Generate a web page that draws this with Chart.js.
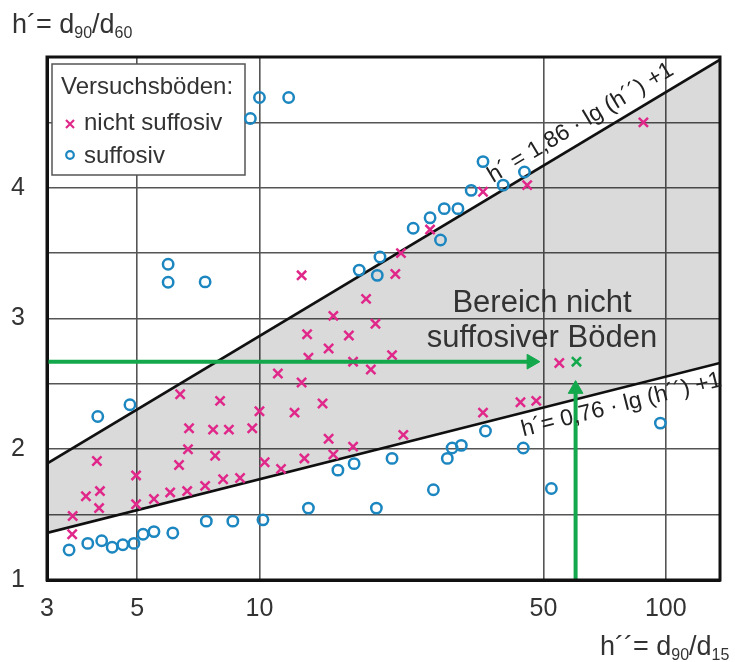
<!DOCTYPE html>
<html><head><meta charset="utf-8">
<script src="https://cdn.jsdelivr.net/npm/chart.js@4.4.1/dist/chart.umd.min.js"></script>
<style>html,body{margin:0;padding:0;background:#fff;}</style>
</head><body>
<canvas id="c" width="735" height="662"></canvas>
<script>
// ---- data ----
const xTickValues = [3, 5, 10, 50, 100];
const yTickLabels = [1, 2, 3, 4];

const nichtSuffosivX = [3.47,3.46,3.74,4.05,4.03,3.98,4.97,4.97,5.5,6.03,6.64,7.35,8.14,8.96,6.34,6.67,7.78,6.71,7.69,8.41,9.6,10.3,10.0,8.0,6.38,11.3,12.9,15.2,17.0,14.8,12.2,14.3,22.6,35.5,43.9,48,54.7,12.7,18.3,21.6,22.3,15.2,19.3,13.1,16.6,14.8,13.2,17.0,21.2,18.8,11.1,12.7,26.3,35.5,45.6,88.1];
const nichtSuffosivY = [1.49,1.35,1.64,1.68,1.55,1.91,1.80,1.58,1.62,1.67,1.68,1.72,1.77,1.78,1.88,2.00,1.95,2.16,2.15,2.15,2.16,1.90,2.29,2.37,2.42,1.85,1.93,1.96,2.02,2.08,2.28,2.35,2.11,2.28,2.36,2.37,2.66,3.33,3.15,3.34,3.5,3.02,2.96,2.88,2.87,2.77,2.70,2.67,2.72,2.61,2.58,2.51,3.68,3.97,4.02,4.5];

const suffosivX = [9.5,10.0,11.8,5.96,5.96,7.35,4.8,4.0,3.40,3.78,4.09,4.34,4.61,4.91,5.17,5.5,6.12,7.4,8.6,10.2,13.2,15.6,17.1,19.4,21.2,26.8,29.0,29.8,31.4,36.0,44.6,52.3,97,23.9,26.3,28.5,30.8,27.9,33.2,35.5,39.8,44.9,17.6,19.8,19.5];
const suffosivY = [4.53,4.69,4.69,3.415,3.277,3.28,2.34,2.25,1.23,1.28,1.30,1.25,1.27,1.28,1.35,1.37,1.36,1.45,1.45,1.46,1.55,1.84,1.89,1.55,1.93,1.69,1.93,2.01,2.03,2.14,2.01,1.70,2.2,3.69,3.77,3.84,3.84,3.60,3.98,4.2,4.02,4.12,3.37,3.47,3.33];

const boundaryX = [3, 136];
const upperY = [1.89, 4.98];   // h' = 1,86 lg(h'') + 1
const lowerY = [1.36, 2.66];   // h' = 0,76 lg(h'') + 1

const arrowHX = [3, 46.7];
const arrowHY = [2.67, 2.67];
const arrowVX = [60, 60];
const arrowVY = [1, 2.46];
const exampleX = [60.3];
const exampleY = [2.67];

// ---- helpers ----
const pts = (xs, ys) => xs.map((x, i) => ({x, y: ys[i]}));
const FONT = '"Liberation Sans", Arial, sans-serif';
const PINK = '#e0288a';
const BLUE = '#1b86bf';
const GREEN = '#13a84c';
const TXT = '#333333';

function drawParts(ctx, parts, x, y) {
  let cx = x;
  for (const [t, sub] of parts) {
    ctx.font = (sub ? '16px ' : '27px ') + FONT;
    ctx.fillText(t, cx, y + (sub ? 5 : 0));
    cx += ctx.measureText(t).width;
  }
}

const decorPlugin = {
  id: 'decor',
  beforeDatasetsDraw(chart) {
    const ctx = chart.ctx;
    ctx.save();
    // legend box
    ctx.fillStyle = '#fff';
    ctx.fillRect(52, 64, 193, 111);
    ctx.strokeStyle = '#555';
    ctx.lineWidth = 1.5;
    ctx.strokeRect(52, 64, 193, 111);
    ctx.fillStyle = TXT;
    ctx.textBaseline = 'alphabetic';
    ctx.textAlign = 'left';
    ctx.font = '24px ' + FONT;
    ctx.fillText('Versuchsböden:', 61, 94);
    ctx.fillText('nicht suffosiv', 84, 130);
    ctx.fillText('suffosiv', 84, 163);
    // legend markers
    ctx.strokeStyle = PINK; ctx.lineWidth = 2.2;
    ctx.beginPath();
    ctx.moveTo(66, 120); ctx.lineTo(74, 128);
    ctx.moveTo(74, 120); ctx.lineTo(66, 128);
    ctx.stroke();
    ctx.strokeStyle = BLUE; ctx.lineWidth = 2.2;
    ctx.beginPath(); ctx.arc(70, 155, 3.8, 0, Math.PI * 2); ctx.stroke();
    ctx.restore();
  },
  afterDatasetsDraw(chart) {
    const ctx = chart.ctx;
    const xs = chart.scales.x, ys = chart.scales.y;
    const a = chart.chartArea;
    ctx.save();
    // frame
    ctx.strokeStyle = '#111';
    ctx.lineWidth = 3;
    ctx.strokeRect(a.left, a.top, a.right - a.left, a.bottom - a.top);
    // region text
    ctx.fillStyle = TXT;
    ctx.textAlign = 'center';
    ctx.textBaseline = 'alphabetic';
    ctx.font = '31px ' + FONT;
    ctx.fillText('Bereich nicht', 542, 312);
    ctx.fillText('suffosiver Böden', 542, 347);
    // boundary labels
    const lab = (ya, txt, vx, off) => {
      const x0 = xs.getPixelForValue(boundaryX[0]), x1 = xs.getPixelForValue(boundaryX[1]);
      const y0 = ys.getPixelForValue(ya[0]), y1 = ys.getPixelForValue(ya[1]);
      const ang = Math.atan2(y1 - y0, x1 - x0);
      const px = xs.getPixelForValue(vx);
      const py = y0 + (px - x0) * (y1 - y0) / (x1 - x0);
      ctx.save();
      ctx.translate(px, py);
      ctx.rotate(ang);
      ctx.font = '23px ' + FONT;
      ctx.textAlign = 'center';
      ctx.textBaseline = 'alphabetic';
      ctx.fillStyle = '#222';
      ctx.fillText(txt, 0, off);
      ctx.restore();
    };
    lab(upperY, 'h\u00b4 = 1,86 \u00b7 lg (h\u00b4\u00b4) +1', 65, -11);
    lab(lowerY, 'h\u00b4= 0,76 \u00b7 lg (h\u00b4\u00b4) +1', 76, 23);
    // axis titles
    ctx.textAlign = 'left';
    ctx.textBaseline = 'alphabetic';
    ctx.fillStyle = TXT;
    drawParts(ctx, [['h\u00b4= d', 0], ['90', 1], ['/d', 0], ['60', 1]], 12, 33);
    drawParts(ctx, [['h\u00b4\u00b4= d', 0], ['90', 1], ['/d', 0], ['15', 1]], 600, 655);
    ctx.restore();
  }
};

new Chart(document.getElementById('c'), {
  type: 'scatter',
  data: {
    datasets: [
      { type: 'line', label: 'upper', data: pts(boundaryX, upperY), borderColor: '#111', borderWidth: 2.6,
        pointRadius: 0, fill: '+1', backgroundColor: 'rgba(0,0,0,0.145)', order: 10 },
      { type: 'line', label: 'lower', data: pts(boundaryX, lowerY), borderColor: '#111', borderWidth: 2.6,
        pointRadius: 0, fill: false, order: 10 },
      { label: 'nicht suffosiv', data: pts(nichtSuffosivX, nichtSuffosivY), pointStyle: 'crossRot',
        pointRadius: 6.5, borderColor: PINK, borderWidth: 2.5, backgroundColor: PINK, order: 2 },
      { label: 'suffosiv', data: pts(suffosivX, suffosivY), pointStyle: 'circle',
        pointRadius: 5.2, borderColor: BLUE, borderWidth: 2.5, backgroundColor: 'rgba(0,0,0,0)', order: 2 },
      { type: 'line', label: 'arrowH', data: pts(arrowHX, arrowHY), borderColor: GREEN, borderWidth: 4,
        pointStyle: 'triangle', pointRotation: 90, pointRadius: [0, 8.5], pointBorderWidth: 1,
        pointBackgroundColor: GREEN, pointBorderColor: GREEN, fill: false, order: 1 },
      { type: 'line', label: 'arrowV', data: pts(arrowVX, arrowVY), borderColor: GREEN, borderWidth: 4,
        pointStyle: 'triangle', pointRotation: 0, pointRadius: [0, 8.5], pointBorderWidth: 1,
        pointBackgroundColor: GREEN, pointBorderColor: GREEN, fill: false, order: 1 },
      { label: 'example', data: pts(exampleX, exampleY), pointStyle: 'crossRot',
        pointRadius: 6.5, borderColor: GREEN, borderWidth: 2.5, order: 1 }
    ]
  },
  options: {
    responsive: false,
    animation: false,
    devicePixelRatio: 1,
    events: [],
    layout: { padding: { top: 57, right: 15, left: 0, bottom: 0 } },
    plugins: { legend: { display: false }, tooltip: { enabled: false }, title: { display: false } },
    scales: {
      x: {
        type: 'logarithmic', position: 'bottom', min: 3, max: 136,
        afterBuildTicks: s => { s.ticks = xTickValues.map(v => ({ value: v })); },
        afterFit: s => { s.height = 82; },
        ticks: { callback: v => xTickValues.includes(v) ? String(v) : '', color: TXT,
                 font: { size: 25, family: FONT }, padding: 14, maxRotation: 0, autoSkip: false },
        grid: { color: '#555', lineWidth: 1.6, drawTicks: false },
        border: { display: true, color: '#111', width: 3 }
      },
      y: {
        type: 'linear', min: 1, max: 5,
        afterFit: s => { s.width = 47; },
        ticks: { stepSize: 0.5, callback: v => yTickLabels.includes(v) ? String(v) : '', color: TXT,
                 font: { size: 25, family: FONT }, padding: 22 },
        grid: { color: '#555', lineWidth: 1.6, drawTicks: false },
        border: { display: true, color: '#111', width: 3 }
      }
    }
  },
  plugins: [decorPlugin]
});
</script>
</body></html>
